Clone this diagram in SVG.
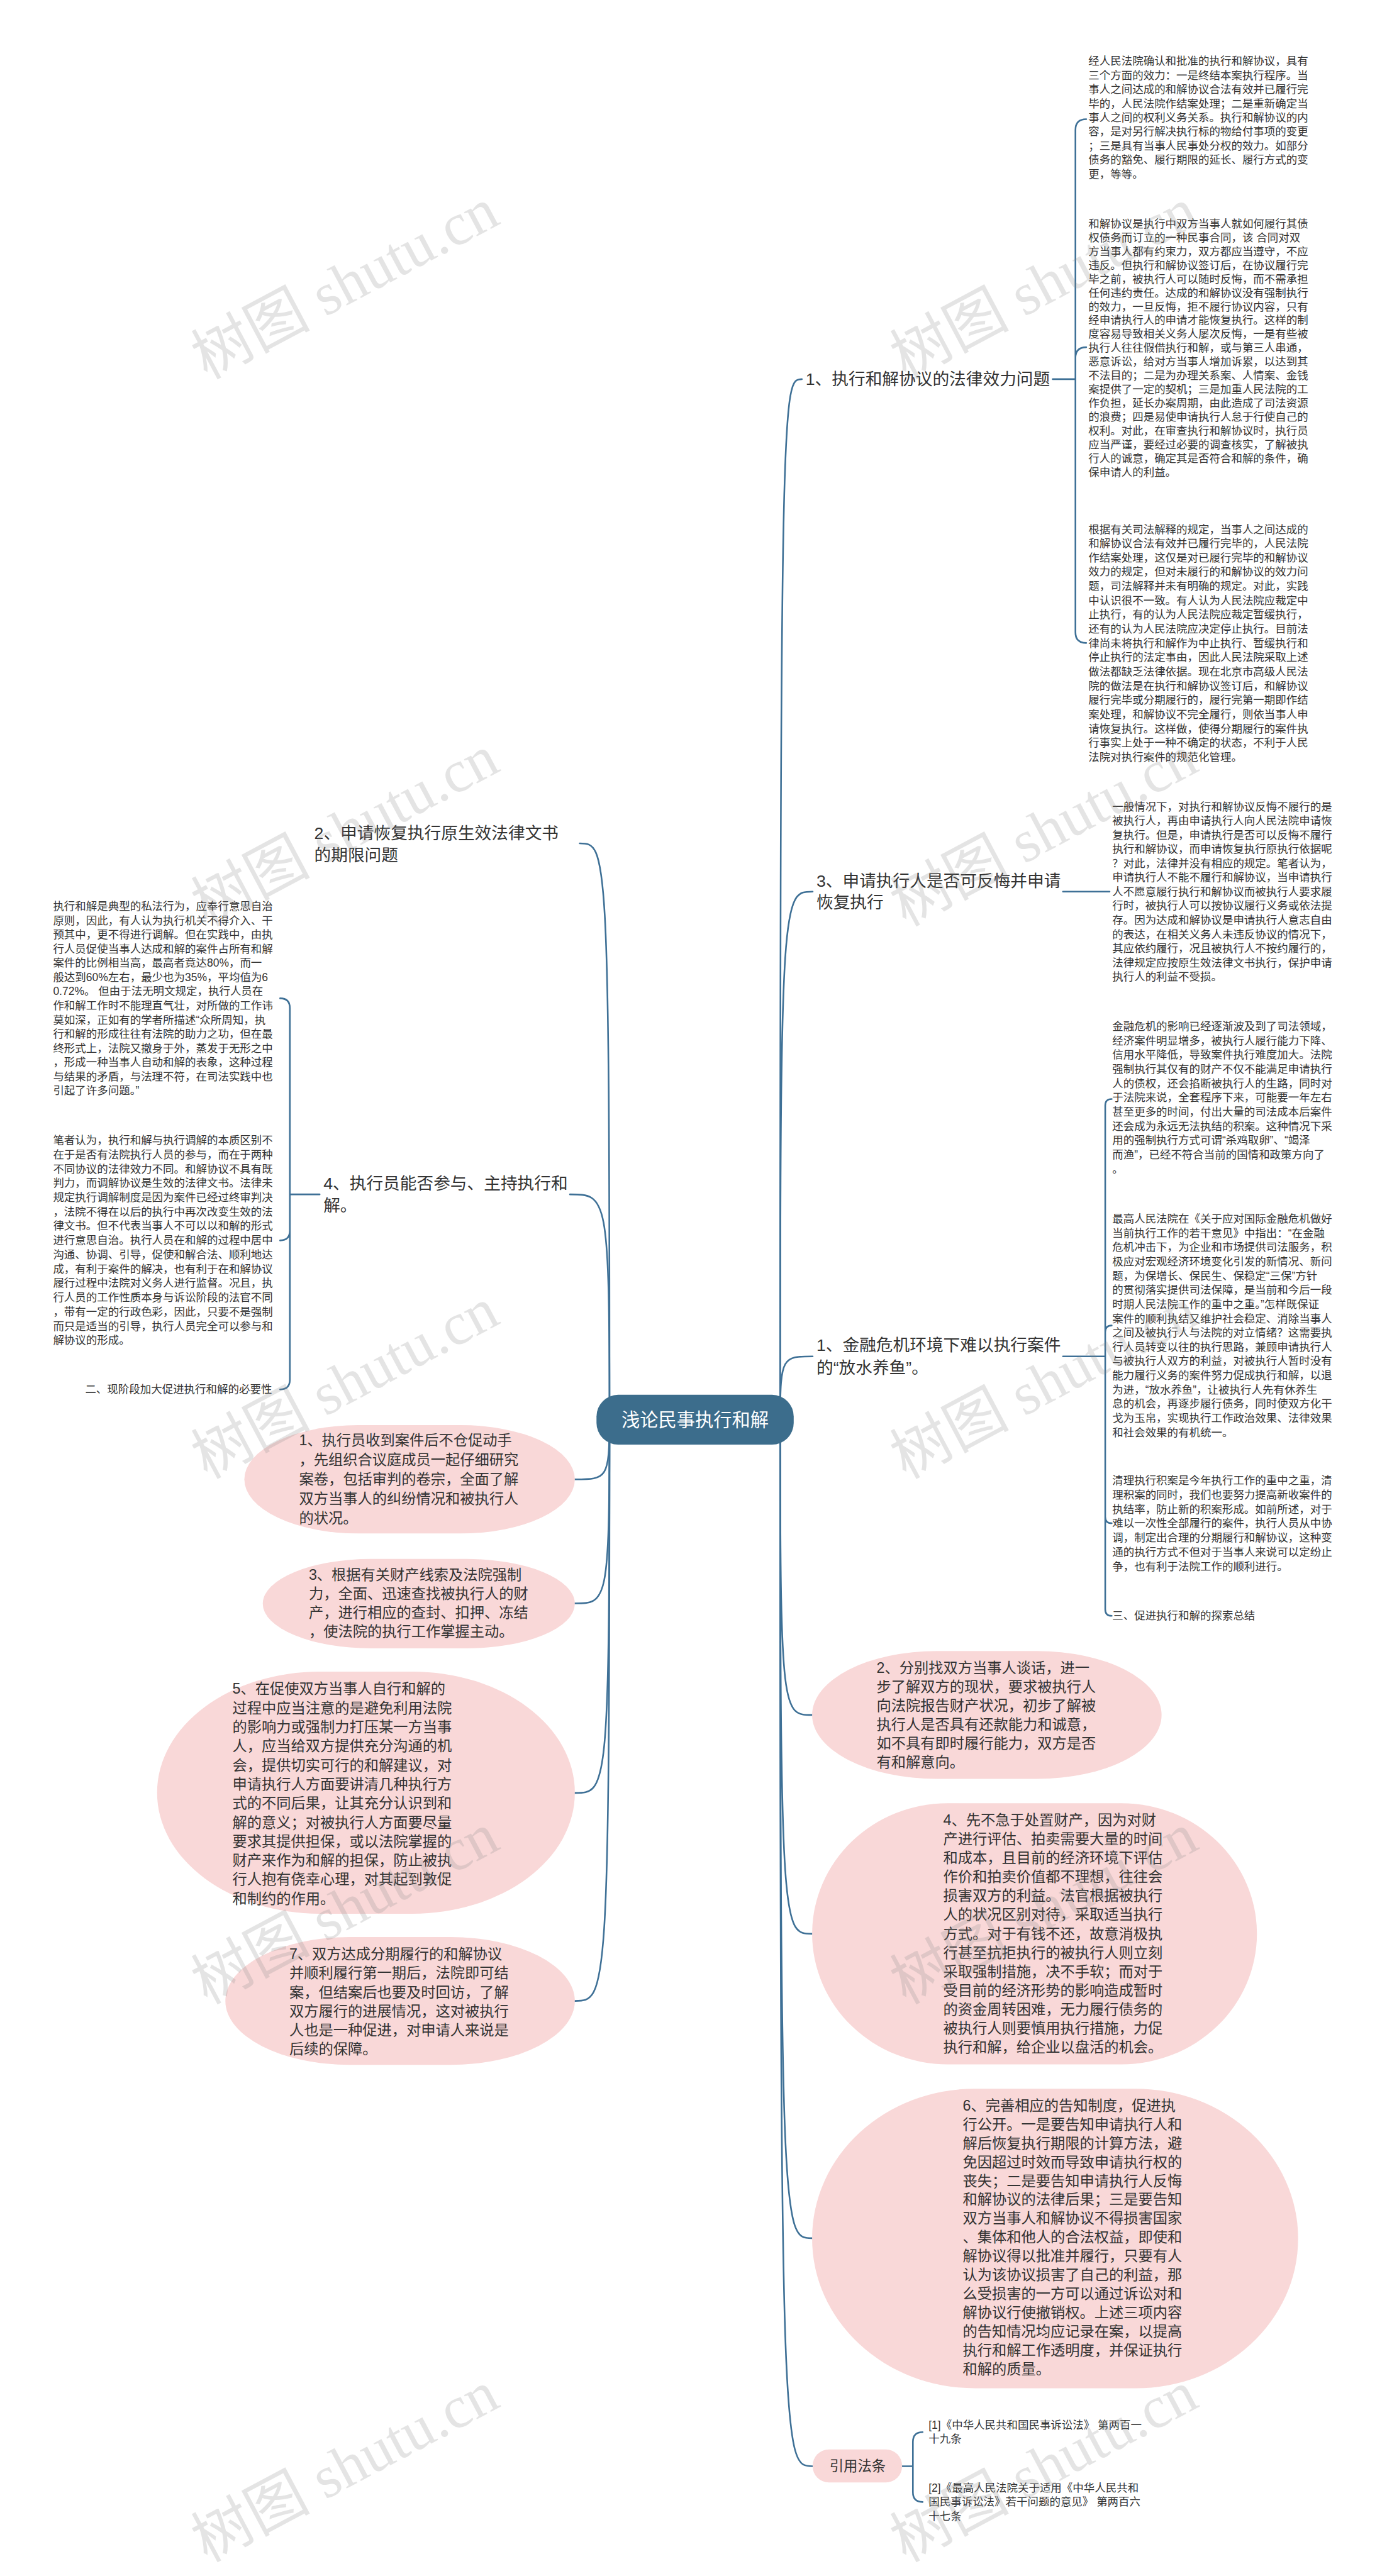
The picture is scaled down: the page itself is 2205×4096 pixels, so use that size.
<svg xmlns="http://www.w3.org/2000/svg" width="2205" height="4096" viewBox="0 0 2205 4096">
<style>
.c{fill:none;stroke:#3e7096;stroke-width:3;stroke-linecap:round}
.t{font-family:"Liberation Sans","Noto Sans CJK SC",sans-serif;fill:#333}
.leaf{font-size:20.3px}
.lab{font-size:31px}
.bub{font-size:27px}
.bf{fill:#f9d8d8}
.wm{font-family:"Liberation Serif","Noto Sans CJK SC",serif;font-size:110px;fill:#888;opacity:.22}
</style>
<rect width="2205" height="4096" fill="#ffffff"/>
<g transform="scale(0.8613)">
<g id="connectors">
<path class="c" d="M1440,2620 C1440,700 1445,700 1480,700"/>
<path class="c" d="M1440,2620 C1440,1646 1445,1646 1500,1646"/>
<path class="c" d="M1440,2620 C1440,2504 1445,2504 1500,2504"/>
<path class="c" d="M1440,2620 C1440,3166 1445,3166 1499,3166"/>
<path class="c" d="M1440,2620 C1440,3570 1445,3570 1499,3570"/>
<path class="c" d="M1440,2620 C1440,4132 1445,4132 1499,4132"/>
<path class="c" d="M1440,2620 C1440,4553 1445,4553 1500,4553"/>
<path class="c" d="M1125,2620 C1125,1557 1120,1557 1070,1557"/>
<path class="c" d="M1125,2620 C1125,2205 1120,2205 1052,2205"/>
<path class="c" d="M1125,2620 C1125,2731 1120,2731 1061,2731"/>
<path class="c" d="M1125,2620 C1125,2960 1120,2960 1061,2960"/>
<path class="c" d="M1125,2620 C1125,3310 1120,3310 1061,3310"/>
<path class="c" d="M1125,2620 C1125,3694 1120,3694 1061,3694"/>
<path class="c" d="M1943,700 H1985 M1985,700 V240 Q1985,220 2005,220 M1985,700 V661 Q1985,641 2005,641 M1985,700 V1167 Q1985,1187 2005,1187"/>
<path class="c" d="M1962,1646 H2048"/>
<path class="c" d="M1962,2504 H2040 M2040,2504 V2041 Q2040,2029 2052,2029 M2040,2504 V2459 Q2040,2447 2052,2447 M2040,2504 V2800 Q2040,2812 2052,2812 M2040,2504 V2971 Q2040,2983 2052,2983"/>
<path class="c" d="M590,2205 H535 M535,2205 V1861 Q535,1843 517,1843 M535,2205 V2272 Q535,2290 517,2290 M535,2205 V2547 Q535,2565 517,2565"/>
<path class="c" d="M1665,4553 H1685 M1685,4553 V4508 Q1685,4490 1703,4490 M1685,4553 V4601 Q1685,4619 1703,4619"/>
</g>

<g id="center">
<rect x="1101" y="2575" width="364" height="92" rx="40" fill="#3c6d8c"/>
<text x="1283" y="2633" text-anchor="middle" font-family="Liberation Sans,Noto Sans CJK SC,sans-serif" font-size="34" fill="#ffffff">浅论民事执行和解</text>
</g>

<g id="r1">
<text class="t lab" x="1487" y="711">1、执行和解协议的法律效力问题</text>
</g>
<g id="r1-a">
<text class="t leaf" x="2009" y="120"><tspan x="2009" dy="0">经人民法院确认和批准的执行和解协议，具有</tspan><tspan x="2009" dy="26">三个方面的效力：一是终结本案执行程序。当</tspan><tspan x="2009" dy="26">事人之间达成的和解协议合法有效并已履行完</tspan><tspan x="2009" dy="26">毕的，人民法院作结案处理；二是重新确定当</tspan><tspan x="2009" dy="26">事人之间的权利义务关系。执行和解协议的内</tspan><tspan x="2009" dy="26">容，是对另行解决执行标的物给付事项的变更</tspan><tspan x="2009" dy="26">；三是具有当事人民事处分权的效力。如部分</tspan><tspan x="2009" dy="26">债务的豁免、履行期限的延长、履行方式的变</tspan><tspan x="2009" dy="26">更，等等。</tspan></text>
</g>
<g id="r1-b">
<text class="t leaf" x="2009" y="420"><tspan x="2009" dy="0">和解协议是执行中双方当事人就如何履行其债</tspan><tspan x="2009" dy="25.5">权债务而订立的一种民事合同，该 合同对双</tspan><tspan x="2009" dy="25.5">方当事人都有约束力，双方都应当遵守，不应</tspan><tspan x="2009" dy="25.5">违反。但执行和解协议签订后，在协议履行完</tspan><tspan x="2009" dy="25.5">毕之前，被执行人可以随时反悔，而不需承担</tspan><tspan x="2009" dy="25.5">任何违约责任。达成的和解协议没有强制执行</tspan><tspan x="2009" dy="25.5">的效力，一旦反悔，拒不履行协议内容，只有</tspan><tspan x="2009" dy="25.5">经申请执行人的申请才能恢复执行。这样的制</tspan><tspan x="2009" dy="25.5">度容易导致相关义务人屡次反悔，一是有些被</tspan><tspan x="2009" dy="25.5">执行人往往假借执行和解，或与第三人串通，</tspan><tspan x="2009" dy="25.5">恶意诉讼，给对方当事人增加诉累，以达到其</tspan><tspan x="2009" dy="25.5">不法目的；二是为办理关系案、人情案、金钱</tspan><tspan x="2009" dy="25.5">案提供了一定的契机；三是加重人民法院的工</tspan><tspan x="2009" dy="25.5">作负担，延长办案周期，由此造成了司法资源</tspan><tspan x="2009" dy="25.5">的浪费；四是易使申请执行人怠于行使自己的</tspan><tspan x="2009" dy="25.5">权利。对此，在审查执行和解协议时，执行员</tspan><tspan x="2009" dy="25.5">应当严谨，要经过必要的调查核实，了解被执</tspan><tspan x="2009" dy="25.5">行人的诚意，确定其是否符合和解的条件，确</tspan><tspan x="2009" dy="25.5">保申请人的利益。</tspan></text>
</g>
<g id="r1-c">
<text class="t leaf" x="2009" y="984"><tspan x="2009" dy="0">根据有关司法解释的规定，当事人之间达成的</tspan><tspan x="2009" dy="26.3">和解协议合法有效并已履行完毕的，人民法院</tspan><tspan x="2009" dy="26.3">作结案处理，这仅是对已履行完毕的和解协议</tspan><tspan x="2009" dy="26.3">效力的规定，但对未履行的和解协议的效力问</tspan><tspan x="2009" dy="26.3">题，司法解释并未有明确的规定。对此，实践</tspan><tspan x="2009" dy="26.3">中认识很不一致。有人认为人民法院应裁定中</tspan><tspan x="2009" dy="26.3">止执行，有的认为人民法院应裁定暂缓执行，</tspan><tspan x="2009" dy="26.3">还有的认为人民法院应决定停止执行。目前法</tspan><tspan x="2009" dy="26.3">律尚未将执行和解作为中止执行、暂缓执行和</tspan><tspan x="2009" dy="26.3">停止执行的法定事由，因此人民法院采取上述</tspan><tspan x="2009" dy="26.3">做法都缺乏法律依据。现在北京市高级人民法</tspan><tspan x="2009" dy="26.3">院的做法是在执行和解协议签订后，和解协议</tspan><tspan x="2009" dy="26.3">履行完毕或分期履行的，履行完第一期即作结</tspan><tspan x="2009" dy="26.3">案处理，和解协议不完全履行，则依当事人申</tspan><tspan x="2009" dy="26.3">请恢复执行。这样做，使得分期履行的案件执</tspan><tspan x="2009" dy="26.3">行事实上处于一种不确定的状态，不利于人民</tspan><tspan x="2009" dy="26.3">法院对执行案件的规范化管理。</tspan></text>
</g>

<g id="r3">
<text class="t lab" x="1507" y="1637"><tspan x="1507" dy="0">3、申请执行人是否可反悔并申请</tspan><tspan x="1507" dy="40">恢复执行</tspan></text>
</g>
<g id="r3-a">
<text class="t leaf" x="2053" y="1496"><tspan x="2053" dy="0">一般情况下，对执行和解协议反悔不履行的是</tspan><tspan x="2053" dy="26.2">被执行人，再由申请执行人向人民法院申请恢</tspan><tspan x="2053" dy="26.2">复执行。但是，申请执行是否可以反悔不履行</tspan><tspan x="2053" dy="26.2">执行和解协议，而申请恢复执行原执行依据呢</tspan><tspan x="2053" dy="26.2">？对此，法律并没有相应的规定。笔者认为，</tspan><tspan x="2053" dy="26.2">申请执行人不能不履行和解协议，当申请执行</tspan><tspan x="2053" dy="26.2">人不愿意履行执行和解协议而被执行人要求履</tspan><tspan x="2053" dy="26.2">行时，被执行人可以按协议履行义务或依法提</tspan><tspan x="2053" dy="26.2">存。因为达成和解协议是申请执行人意志自由</tspan><tspan x="2053" dy="26.2">的表达，在相关义务人未违反协议的情况下，</tspan><tspan x="2053" dy="26.2">其应依约履行，况且被执行人不按约履行的，</tspan><tspan x="2053" dy="26.2">法律规定应按原生效法律文书执行，保护申请</tspan><tspan x="2053" dy="26.2">执行人的利益不受损。</tspan></text>
</g>

<g id="rf">
<text class="t lab" x="1507" y="2494"><tspan x="1507" dy="0">1、金融危机环境下难以执行案件</tspan><tspan x="1507" dy="42">的“放水养鱼”。</tspan></text>
</g>
<g id="rf-a">
<text class="t leaf" x="2053" y="1902"><tspan x="2053" dy="0">金融危机的影响已经逐渐波及到了司法领域，</tspan><tspan x="2053" dy="26.3">经济案件明显增多，被执行人履行能力下降、</tspan><tspan x="2053" dy="26.3">信用水平降低，导致案件执行难度加大。法院</tspan><tspan x="2053" dy="26.3">强制执行其仅有的财产不仅不能满足申请执行</tspan><tspan x="2053" dy="26.3">人的债权，还会掐断被执行人的生路，同时对</tspan><tspan x="2053" dy="26.3">于法院来说，全套程序下来，可能要一年左右</tspan><tspan x="2053" dy="26.3">甚至更多的时间，付出大量的司法成本后案件</tspan><tspan x="2053" dy="26.3">还会成为永远无法执结的积案。这种情况下采</tspan><tspan x="2053" dy="26.3">用的强制执行方式可谓“杀鸡取卵”、“竭泽</tspan><tspan x="2053" dy="26.3">而渔”，已经不符合当前的国情和政策方向了</tspan><tspan x="2053" dy="26.3">。</tspan></text>
</g>
<g id="rf-b">
<text class="t leaf" x="2053" y="2257"><tspan x="2053" dy="0">最高人民法院在《关于应对国际金融危机做好</tspan><tspan x="2053" dy="26.3">当前执行工作的若干意见》中指出：“在金融</tspan><tspan x="2053" dy="26.3">危机冲击下，为企业和市场提供司法服务，积</tspan><tspan x="2053" dy="26.3">极应对宏观经济环境变化引发的新情况、新问</tspan><tspan x="2053" dy="26.3">题，为保增长、保民生、保稳定“三保”方针</tspan><tspan x="2053" dy="26.3">的贯彻落实提供司法保障，是当前和今后一段</tspan><tspan x="2053" dy="26.3">时期人民法院工作的重中之重。”怎样既保证</tspan><tspan x="2053" dy="26.3">案件的顺利执结又维护社会稳定、消除当事人</tspan><tspan x="2053" dy="26.3">之间及被执行人与法院的对立情绪？这需要执</tspan><tspan x="2053" dy="26.3">行人员转变以往的执行思路，兼顾申请执行人</tspan><tspan x="2053" dy="26.3">与被执行人双方的利益，对被执行人暂时没有</tspan><tspan x="2053" dy="26.3">能力履行义务的案件努力促成执行和解，以退</tspan><tspan x="2053" dy="26.3">为进，“放水养鱼”，让被执行人先有休养生</tspan><tspan x="2053" dy="26.3">息的机会，再逐步履行债务，同时使双方化干</tspan><tspan x="2053" dy="26.3">戈为玉帛，实现执行工作政治效果、法律效果</tspan><tspan x="2053" dy="26.3">和社会效果的有机统一。</tspan></text>
</g>
<g id="rf-c">
<text class="t leaf" x="2053" y="2740"><tspan x="2053" dy="0">清理执行积案是今年执行工作的重中之重，清</tspan><tspan x="2053" dy="26.5">理积案的同时，我们也要努力提高新收案件的</tspan><tspan x="2053" dy="26.5">执结率，防止新的积案形成。如前所述，对于</tspan><tspan x="2053" dy="26.5">难以一次性全部履行的案件，执行人员从中协</tspan><tspan x="2053" dy="26.5">调，制定出合理的分期履行和解协议，这种变</tspan><tspan x="2053" dy="26.5">通的执行方式不但对于当事人来说可以定纷止</tspan><tspan x="2053" dy="26.5">争，也有利于法院工作的顺利进行。</tspan></text>
</g>
<g id="rf-d">
<text class="t leaf" x="2053" y="2990">三、促进执行和解的探索总结</text>
</g>

<g id="l2">
<text class="t lab" x="580" y="1549"><tspan x="580" dy="0">2、申请恢复执行原生效法律文书</tspan><tspan x="580" dy="40">的期限问题</tspan></text>
</g>

<g id="l4">
<text class="t lab" x="597" y="2195"><tspan x="597" dy="0">4、执行员能否参与、主持执行和</tspan><tspan x="597" dy="41">解。</tspan></text>
</g>
<g id="l4-a">
<text class="t leaf" x="98" y="1680"><tspan x="98" dy="0">执行和解是典型的私法行为，应奉行意思自治</tspan><tspan x="98" dy="26.2">原则，因此，有人认为执行机关不得介入、干</tspan><tspan x="98" dy="26.2">预其中，更不得进行调解。但在实践中，由执</tspan><tspan x="98" dy="26.2">行人员促使当事人达成和解的案件占所有和解</tspan><tspan x="98" dy="26.2">案件的比例相当高，最高者竟达80%，而一</tspan><tspan x="98" dy="26.2">般达到60%左右，最少也为35%，平均值为6</tspan><tspan x="98" dy="26.2">0.72%。 但由于法无明文规定，执行人员在</tspan><tspan x="98" dy="26.2">作和解工作时不能理直气壮，对所做的工作讳</tspan><tspan x="98" dy="26.2">莫如深，正如有的学者所描述“众所周知，执</tspan><tspan x="98" dy="26.2">行和解的形成往往有法院的助力之功，但在最</tspan><tspan x="98" dy="26.2">终形式上，法院又撤身于外，蒸发于无形之中</tspan><tspan x="98" dy="26.2">，形成一种当事人自动和解的表象，这种过程</tspan><tspan x="98" dy="26.2">与结果的矛盾，与法理不符，在司法实践中也</tspan><tspan x="98" dy="26.2">引起了许多问题。”</tspan></text>
</g>
<g id="l4-b">
<text class="t leaf" x="98" y="2112"><tspan x="98" dy="0">笔者认为，执行和解与执行调解的本质区别不</tspan><tspan x="98" dy="26.4">在于是否有法院执行人员的参与，而在于两种</tspan><tspan x="98" dy="26.4">不同协议的法律效力不同。和解协议不具有既</tspan><tspan x="98" dy="26.4">判力，而调解协议是生效的法律文书。法律未</tspan><tspan x="98" dy="26.4">规定执行调解制度是因为案件已经过终审判决</tspan><tspan x="98" dy="26.4">，法院不得在以后的执行中再次改变生效的法</tspan><tspan x="98" dy="26.4">律文书。但不代表当事人不可以以和解的形式</tspan><tspan x="98" dy="26.4">进行意思自治。执行人员在和解的过程中居中</tspan><tspan x="98" dy="26.4">沟通、协调、引导，促使和解合法、顺利地达</tspan><tspan x="98" dy="26.4">成，有利于案件的解决，也有利于在和解协议</tspan><tspan x="98" dy="26.4">履行过程中法院对义务人进行监督。况且，执</tspan><tspan x="98" dy="26.4">行人员的工作性质本身与诉讼阶段的法官不同</tspan><tspan x="98" dy="26.4">，带有一定的行政色彩，因此，只要不是强制</tspan><tspan x="98" dy="26.4">而只是适当的引导，执行人员完全可以参与和</tspan><tspan x="98" dy="26.4">解协议的形成。</tspan></text>
</g>
<g id="l4-c">
<text class="t leaf" x="502" y="2572" text-anchor="end">二、现阶段加大促进执行和解的必要性</text>
</g>

<g id="b1">
<rect class="bf" x="451" y="2631" width="610" height="200" rx="210" ry="100"/>
<text class="t bub" x="552" y="2668"><tspan x="552" dy="0">1、执行员收到案件后不仓促动手</tspan><tspan x="552" dy="36">，先组织合议庭成员一起仔细研究</tspan><tspan x="552" dy="36">案卷，包括审判的卷宗，全面了解</tspan><tspan x="552" dy="36">双方当事人的纠纷情况和被执行人</tspan><tspan x="552" dy="36">的状况。</tspan></text>
</g>
<g id="b3">
<rect class="bf" x="485" y="2878" width="576" height="165" rx="200" ry="82.5"/>
<text class="t bub" x="570" y="2916"><tspan x="570" dy="0">3、根据有关财产线索及法院强制</tspan><tspan x="570" dy="35">力，全面、迅速查找被执行人的财</tspan><tspan x="570" dy="35">产，进行相应的查封、扣押、冻结</tspan><tspan x="570" dy="35">，使法院的执行工作掌握主动。</tspan></text>
</g>
<g id="b5">
<rect class="bf" x="290" y="3086" width="771" height="447" rx="300" ry="223"/>
<text class="t bub" x="429" y="3127"><tspan x="429" dy="0">5、在促使双方当事人自行和解的</tspan><tspan x="429" dy="35.2">过程中应当注意的是避免利用法院</tspan><tspan x="429" dy="35.2">的影响力或强制力打压某一方当事</tspan><tspan x="429" dy="35.2">人，应当给双方提供充分沟通的机</tspan><tspan x="429" dy="35.2">会，提供切实可行的和解建议，对</tspan><tspan x="429" dy="35.2">申请执行人方面要讲清几种执行方</tspan><tspan x="429" dy="35.2">式的不同后果，让其充分认识到和</tspan><tspan x="429" dy="35.2">解的意义；对被执行人方面要尽量</tspan><tspan x="429" dy="35.2">要求其提供担保，或以法院掌握的</tspan><tspan x="429" dy="35.2">财产来作为和解的担保，防止被执</tspan><tspan x="429" dy="35.2">行人抱有侥幸心理，对其起到敦促</tspan><tspan x="429" dy="35.2">和制约的作用。</tspan></text>
</g>
<g id="b7">
<rect class="bf" x="416" y="3576" width="645" height="236" rx="230" ry="118"/>
<text class="t bub" x="534" y="3617"><tspan x="534" dy="0">7、双方达成分期履行的和解协议</tspan><tspan x="534" dy="35">并顺利履行第一期后，法院即可结</tspan><tspan x="534" dy="35">案，但结案后也要及时回访，了解</tspan><tspan x="534" dy="35">双方履行的进展情况，这对被执行</tspan><tspan x="534" dy="35">人也是一种促进，对申请人来说是</tspan><tspan x="534" dy="35">后续的保障。</tspan></text>
</g>
<g id="b2">
<rect class="bf" x="1499" y="3048" width="645" height="236" rx="230" ry="118"/>
<text class="t bub" x="1618" y="3088"><tspan x="1618" dy="0">2、分别找双方当事人谈话，进一</tspan><tspan x="1618" dy="35">步了解双方的现状，要求被执行人</tspan><tspan x="1618" dy="35">向法院报告财产状况，初步了解被</tspan><tspan x="1618" dy="35">执行人是否具有还款能力和诚意，</tspan><tspan x="1618" dy="35">如不具有即时履行能力，双方是否</tspan><tspan x="1618" dy="35">有和解意向。</tspan></text>
</g>
<g id="b4">
<rect class="bf" x="1499" y="3329" width="821" height="482" rx="250" ry="241"/>
<text class="t bub" x="1741" y="3369"><tspan x="1741" dy="0">4、先不急于处置财产，因为对财</tspan><tspan x="1741" dy="35">产进行评估、拍卖需要大量的时间</tspan><tspan x="1741" dy="35">和成本，且目前的经济环境下评估</tspan><tspan x="1741" dy="35">作价和拍卖价值都不理想，往往会</tspan><tspan x="1741" dy="35">损害双方的利益。法官根据被执行</tspan><tspan x="1741" dy="35">人的状况区别对待，采取适当执行</tspan><tspan x="1741" dy="35">方式。对于有钱不还，故意消极执</tspan><tspan x="1741" dy="35">行甚至抗拒执行的被执行人则立刻</tspan><tspan x="1741" dy="35">采取强制措施，决不手软；而对于</tspan><tspan x="1741" dy="35">受目前的经济形势的影响造成暂时</tspan><tspan x="1741" dy="35">的资金周转困难，无力履行债务的</tspan><tspan x="1741" dy="35">被执行人则要慎用执行措施，力促</tspan><tspan x="1741" dy="35">执行和解，给企业以盘活的机会。</tspan></text>
</g>
<g id="b6">
<rect class="bf" x="1499" y="3856" width="897" height="553" rx="300" ry="276"/>
<text class="t bub" x="1777" y="3896"><tspan x="1777" dy="0">6、完善相应的告知制度，促进执</tspan><tspan x="1777" dy="34.8">行公开。一是要告知申请执行人和</tspan><tspan x="1777" dy="34.8">解后恢复执行期限的计算方法，避</tspan><tspan x="1777" dy="34.8">免因超过时效而导致申请执行权的</tspan><tspan x="1777" dy="34.8">丧失；二是要告知申请执行人反悔</tspan><tspan x="1777" dy="34.8">和解协议的法律后果；三是要告知</tspan><tspan x="1777" dy="34.8">双方当事人和解协议不得损害国家</tspan><tspan x="1777" dy="34.8">、集体和他人的合法权益，即使和</tspan><tspan x="1777" dy="34.8">解协议得以批准并履行，只要有人</tspan><tspan x="1777" dy="34.8">认为该协议损害了自己的利益，那</tspan><tspan x="1777" dy="34.8">么受损害的一方可以通过诉讼对和</tspan><tspan x="1777" dy="34.8">解协议行使撤销权。上述三项内容</tspan><tspan x="1777" dy="34.8">的告知情况均应记录在案，以提高</tspan><tspan x="1777" dy="34.8">执行和解工作透明度，并保证执行</tspan><tspan x="1777" dy="34.8">和解的质量。</tspan></text>
</g>

<g id="refs">
<rect class="bf" x="1500" y="4522" width="165" height="61" rx="30"/>
<text class="t" x="1583" y="4562" text-anchor="middle" font-size="26">引用法条</text>
</g>
<g id="ref1">
<text class="t leaf" x="1714" y="4484"><tspan x="1714" dy="0">[1]《中华人民共和国民事诉讼法》 第两百一</tspan><tspan x="1714" dy="26">十九条</tspan></text>
</g>
<g id="ref2">
<text class="t leaf" x="1714" y="4600"><tspan x="1714" dy="0">[2]《最高人民法院关于适用《中华人民共和</tspan><tspan x="1714" dy="26">国民事诉讼法》若干问题的意见》 第两百六</tspan><tspan x="1714" dy="26">十七条</tspan></text>
</g>

<g id="watermarks">
<text class="wm" x="640" y="560" text-anchor="middle" transform="rotate(-28 640 530)">树图 shutu.cn</text>
<text class="wm" x="1930" y="560" text-anchor="middle" transform="rotate(-28 1930 530)">树图 shutu.cn</text>
<text class="wm" x="640" y="1570" text-anchor="middle" transform="rotate(-28 640 1540)">树图 shutu.cn</text>
<text class="wm" x="1930" y="1570" text-anchor="middle" transform="rotate(-28 1930 1540)">树图 shutu.cn</text>
<text class="wm" x="640" y="2590" text-anchor="middle" transform="rotate(-28 640 2560)">树图 shutu.cn</text>
<text class="wm" x="1930" y="2590" text-anchor="middle" transform="rotate(-28 1930 2560)">树图 shutu.cn</text>
<text class="wm" x="640" y="3560" text-anchor="middle" transform="rotate(-28 640 3530)">树图 shutu.cn</text>
<text class="wm" x="1930" y="3560" text-anchor="middle" transform="rotate(-28 1930 3530)">树图 shutu.cn</text>
<text class="wm" x="640" y="4590" text-anchor="middle" transform="rotate(-28 640 4560)">树图 shutu.cn</text>
<text class="wm" x="1930" y="4590" text-anchor="middle" transform="rotate(-28 1930 4560)">树图 shutu.cn</text>
</g>
</g>
</svg>
